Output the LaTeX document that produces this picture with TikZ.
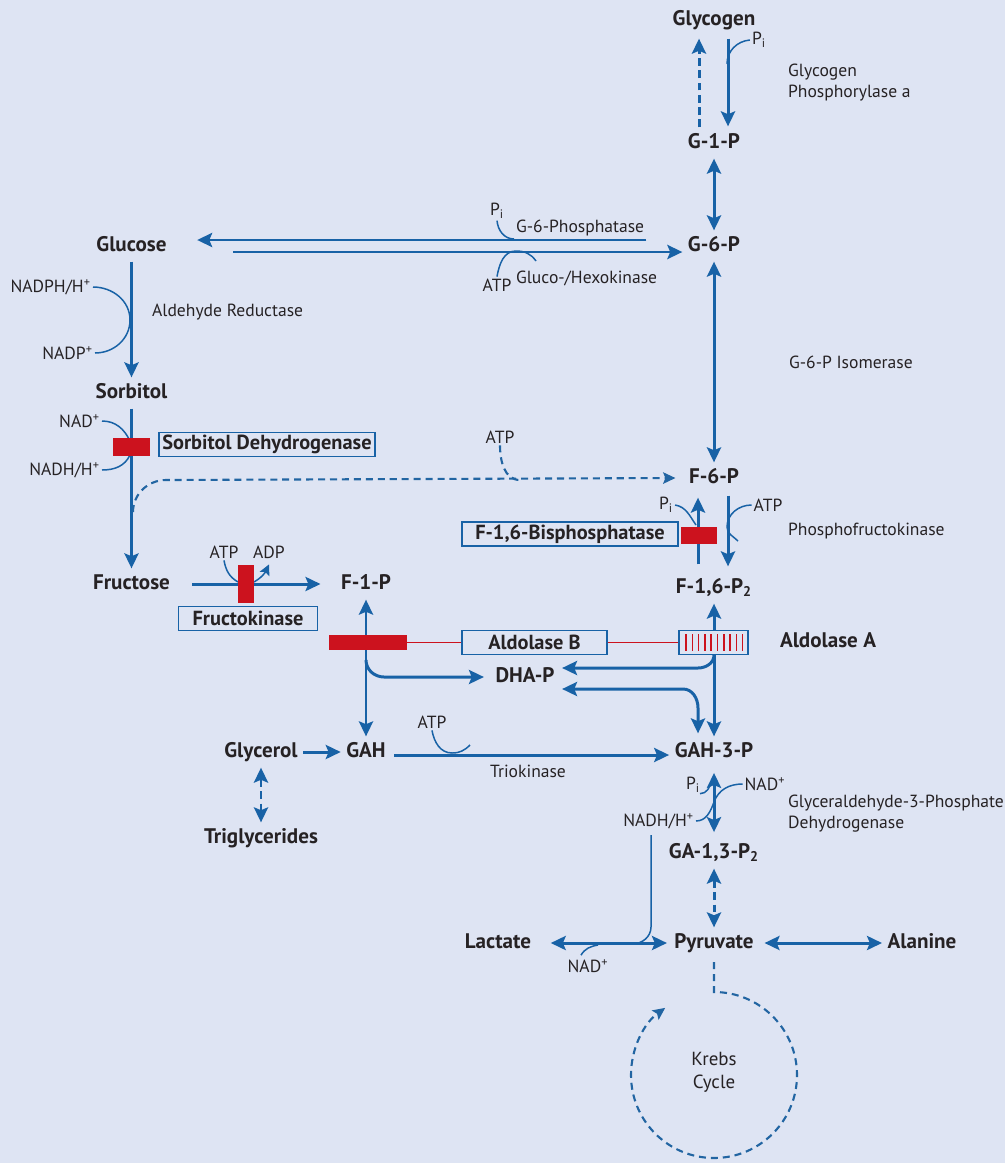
\documentclass[tikz,border=0pt]{standalone}
\usepackage{fontspec}
\setmainfont{PT Sans}
\usetikzlibrary{arrows.meta, positioning, calc}
\definecolor{pathblue}{RGB}{24,98,166}
\definecolor{enzred}{RGB}{204,18,30}
\definecolor{panelbg}{RGB}{222,228,243}
\definecolor{ink}{RGB}{38,34,36}

\begin{document}
\begin{tikzpicture}[x=0.02cm, y=-0.02cm,
    >={Stealth[length=8.5pt, width=8pt, inset=1.6pt]},
    mol/.style={font=\bfseries\fontsize{12}{14}\selectfont, text=ink,
                text height=8.7pt, text depth=2.7pt, inner sep=3pt},
    note/.style={font=\fontsize{10}{12}\selectfont, text=ink, inner sep=1pt, align=left},
    enzbox/.style={draw=pathblue, line width=0.85pt, fill=panelbg,
                   font=\bfseries\fontsize{11.6}{13}\selectfont, text=ink,
                   minimum width=#1, minimum height=0.48cm, inner sep=1pt},
    redbar/.style={fill=enzred, inner sep=0pt},
    arr/.style={line width=1.7pt, pathblue},
    dsh/.style={arr, dash pattern=on 4.5pt off 2.5pt},
    fdsh/.style={line width=1.2pt, pathblue!90!gray, dash pattern=on 4pt off 2.8pt},
    thin/.style={line width=0.85pt, pathblue},
    redlink/.style={line width=1.1pt, enzred},
    smalltip/.style={-{Stealth[length=7pt, width=6.5pt, inset=1.3pt]}}
  ]
  % Background panel
  \fill[panelbg] (0,0) rectangle (1005,1163);
  \useasboundingbox (0,0) rectangle (1005,1163);

  % Metabolites
  \node[mol] (glycogen) at (714,20)  {Glycogen};
  \node[mol] (g1p)      at (714,143) {G-1-P};
  \node[mol] (g6p)      at (714,246) {G-6-P};
  \node[mol] (f6p)      at (714,478) {F-6-P};
  \node[mol] (f16p)     at (714,588) {F-1,6-P\textsubscript{2}};
  \node[mol] (gah3p)    at (714,752) {GAH-3-P};
  \node[mol] (ga13p)    at (714,853) {GA-1,3-P\textsubscript{2}};
  \node[mol] (pyruvate) at (714,943) {Pyruvate};
  \node[mol] (glucose)  at (131.5,246) {Glucose};
  \node[mol] (sorbitol) at (131.5,393) {Sorbitol};
  \node[mol] (fructose) at (131.5,584) {Fructose};
  \node[mol] (f1p)      at (366,584) {F-1-P};
  \node[mol] (dhap)     at (525,677) {DHA-P};
  \node[mol] (glycerol) at (261,752) {Glycerol};
  \node[mol] (gah)      at (366,752) {GAH};
  \node[mol] (trigly)   at (261,838) {Triglycerides};
  \node[mol] (lactate)  at (498,943) {Lactate};
  \node[mol] (alanine)  at (922,943) {Alanine};
  \node[mol] (aldoA)    at (828,642) {Aldolase A};
  \node[note, align=center, font=\fontsize{10.8}{13}\selectfont] (krebs) at (714,1072) {Krebs\\Cycle};

  % Enzyme names
  \node[note, anchor=west] (phos)   at (786,83)  {Glycogen\\Phosphorylase a};
  \node[note, anchor=west] (g6pase) at (514,228) {G-6-Phosphatase};
  \node[note, anchor=west] (hexo)   at (514,278) {Gluco-/Hexokinase};
  \node[note, anchor=west] (alred)  at (150,312) {Aldehyde Reductase};
  \node[note, anchor=west] (isom)   at (787,362) {G-6-P Isomerase};
  \node[note, anchor=west] (pfk)    at (786,531) {Phosphofructokinase};
  \node[note]              (trio)   at (528,771) {Triokinase};
  \node[note, anchor=west] (gapdh)  at (786,814) {Glyceraldehyde-3-Phosphate\\Dehydrogenase};

  % Cofactors
  \node[note] (pi-phos)   at (759,40)  {P\textsubscript{i}};
  \node[note] (pi-g6pase) at (497,211) {P\textsubscript{i}};
  \node[note] (atp-hexo)  at (497,285) {ATP};
  \node[note, anchor=east] (nadph)    at (93,287)  {NADPH/H\textsuperscript{+}};
  \node[note, anchor=east] (nadp)     at (95,353)  {NADP\textsuperscript{+}};
  \node[note, anchor=east] (nad-sdh)  at (102,421) {NAD\textsuperscript{+}};
  \node[note, anchor=east] (nadh-sdh) at (102,470) {NADH/H\textsuperscript{+}};
  \node[note] (atp-f6p)   at (500,437) {ATP};
  \node[note] (pi-fbp)    at (666,505) {P\textsubscript{i}};
  \node[note] (atp-pfk)   at (768,505) {ATP};
  \node[note] (atp-fk)    at (224,552) {ATP};
  \node[note] (adp-fk)    at (269,552) {ADP};
  \node[note] (atp-trio)  at (432,722) {ATP};
  \node[note] (pi-gapdh)  at (693,785) {P\textsubscript{i}};
  \node[note] (nad-gapdh) at (765,784) {NAD\textsuperscript{+}};
  \node[note, anchor=east] (nadh-gapdh) at (696,821) {NADH/H\textsuperscript{+}};
  \node[note] (nad-ldh)   at (588,966) {NAD\textsuperscript{+}};

  % Junctions on the main lines
  \coordinate (j-phos)       at (727,64);
  \coordinate (j-g6pase)     at (514,239);
  \coordinate (j-hexo)       at (516,251);
  \coordinate (j-hexo-end)   at (536,261);
  \coordinate (j-alred)      at (130,320);
  \coordinate (j-sdh-in)     at (130,441);
  \coordinate (j-sdh-out)    at (130,455);
  \coordinate (j-f6p-branch) at (133,512);
  \coordinate (j-f6p-bend)   at (166,480);
  \coordinate (j-atp-f6p)    at (520,480);
  \coordinate (j-pfk)        at (727,527);
  \coordinate (j-pfk-end)    at (738,541);
  \coordinate (j-fbp)        at (696,525);
  \coordinate (j-fk-in)      at (238,582);
  \coordinate (j-fk-out)     at (254,582);
  \coordinate (j-aldoB)      at (366,660);
  \coordinate (j-aldoB-bend) at (384,677);
  \coordinate (j-aldoA)      at (714,655);
  \coordinate (j-aldoA-bend) at (698,668);
  \coordinate (j-dhap-bend)  at (683,689);
  \coordinate (j-dhap-down)  at (698,708);
  \coordinate (j-trio)       at (452,753);
  \coordinate (j-trio-end)   at (470,745);
  \coordinate (j-pi-gapdh)   at (712,781);
  \coordinate (j-nad-gapdh)  at (714,802);
  \coordinate (j-nadh-top)   at (651,835);
  \coordinate (j-ldh)        at (598,945);
  \coordinate (j-krebs)      at (714,992);

  % Main column and side branches
  \foreach \a/\b in {g1p/g6p, g6p/f6p, f1p/gah, f16p/gah3p}
    \draw[arr,<->] (\a) -- (\b);
  \foreach \a/\b in {glucose/sorbitol, sorbitol/fructose, glycerol/gah}
    \draw[arr,->] (\a) -- (\b);
  \draw[arr,<->, shorten <=3pt, shorten >=3pt] (gah3p) -- (ga13p);
  \draw[dsh,<->] (glycerol) -- (trigly);
  \draw[dsh,<->] (ga13p) -- (pyruvate);
  \draw[arr,<->, shorten <=8pt, shorten >=1pt] (lactate) -- (pyruvate);
  \draw[arr,<->, shorten <=3pt] (pyruvate) -- (alanine);
  \draw[arr,->, shorten <=9.5pt, shorten >=8.5pt] (fructose) -- (f1p);
  \draw[arr,->] ($(gah.east)+(3,3)$) -- ($(gah3p.west)+(0,3)$);

  % Glycogen <-> G-1-P
  \draw[dsh,->] ($(g1p.north)+(-15,0)$) -- ($(glycogen.south)+(-15,3)$);
  \draw[arr,->] ($(glycogen.south)+(14,3)$) -- ($(g1p.north)+(14,-1)$);
  \draw[thin] (pi-phos.west) to[out=185, in=90] (j-phos);

  % Glucose <-> G-6-P
  \draw[arr,->] ($(g6p.west)+(-36,-6)$) -- ($(glucose.east)+(25,-6)$);
  \draw[arr,->] ($(glucose.east)+(61,6)$) -- ($(g6p.west)+(0,6)$);
  \draw[thin] (pi-g6pase.south) to[out=-85, in=180] (j-g6pase);
  \draw[thin] (atp-hexo.north) to[out=80, in=180] (j-hexo) to[out=0, in=125] (j-hexo-end);

  % Sorbitol pathway cofactors
  \draw[thin] (nadph.east) to[out=0, in=90] (j-alred) to[out=-90, in=0] (nadp.east);
  \draw[thin] (nad-sdh.east) to[out=0, in=115] (j-sdh-in);
  \draw[thin] (nadh-sdh.east) to[out=0, in=-115] (j-sdh-out);

  % Fructose -> F-6-P (hexokinase side route)
  \draw[fdsh, smalltip] (j-f6p-branch) to[out=90, in=180] (j-f6p-bend) -- ($(f6p.west)+(-8,0)$);
  \draw[fdsh] (atp-f6p.south) to[out=-90, in=180] (j-atp-f6p);

  % F-6-P <-> F-1,6-P2
  \draw[arr,->] ($(f6p.south)+(14,2)$) -- ($(f16p.north)+(14,-6)$);
  \draw[arr,->] ($(f16p.north)+(-16,-8)$) -- ($(f6p.south)+(-16,4)$);
  \draw[thin] (atp-pfk.west) to[out=180, in=90] (j-pfk) to[out=-90, in=135] (j-pfk-end);
  \draw[thin] (pi-fbp.east) to[out=-10, in=125] (j-fbp);

  % Fructokinase cofactors
  \draw[thin] (atp-fk.south) to[out=-80, in=150] (j-fk-in);
  \draw[thin, -{Stealth[length=6pt, width=6pt, inset=1.2pt]}] (j-fk-out) to[out=30, in=-115] ($(adp-fk.south)+(0,4)$);

  % Aldolase cleavage products
  \draw[arr,->] (j-aldoB) to[out=-90, in=180] (j-aldoB-bend) -- ($(dhap.west)+(-6,0)$);
  \draw[arr,->] (j-aldoA) to[out=-90, in=0] (j-aldoA-bend) -- ($(dhap.east)+(2,-9)$);
  \draw[arr,<->] ($(dhap.east)+(2,12)$) -- (j-dhap-bend) to[out=0, in=90] (j-dhap-down) -- ($(gah3p.north)+(-16,-3)$);

  % Triokinase and GAPDH cofactors
  \draw[thin] (atp-trio.south) to[out=-80, in=180] (j-trio) to[out=0, in=-135] (j-trio-end);
  \draw[thin] ($(pi-gapdh.south)+(7,-1)$) to[out=0, in=-110] (j-pi-gapdh);
  \draw[thin] (nad-gapdh.west) to[out=180, in=70] (j-nad-gapdh) to[out=-110, in=0] (nadh-gapdh.east);
  \draw[thin] (j-nadh-top) -- ++(0,92) to[out=-90, in=0] ++(-19,17);
  \draw[thin] ($(nad-ldh.north)+(-7,-2)$) to[out=60, in=190] (j-ldh);

  % Krebs cycle
  \draw[fdsh, smalltip, shorten <=2pt] (pyruvate.south) -- (j-krebs)
    arc[start angle=-90, end angle=234, radius=83];

  % Enzyme boxes and blocks
  \node[redbar, minimum width=0.74cm, minimum height=0.36cm] (sdhbar) at (131.5,447) {};
  \node[enzbox=4.32cm] (sdh) at (267,444.5) {Sorbitol Dehydrogenase};
  \node[redbar, minimum width=0.72cm, minimum height=0.34cm] (fbpbar) at (699,535.5) {};
  \node[enzbox=4.32cm] (fbpase) at (570,534) {F-1,6-Bisphosphatase};
  \node[redbar, minimum width=0.32cm, minimum height=0.76cm] (fkbar) at (246,584) {};
  \node[enzbox=2.78cm] (fk) at (248,618.5) {Fructokinase};
  \node[redbar, minimum width=1.56cm, minimum height=0.3cm] (f1pbar) at (368,642.5) {};
  \node[enzbox=2.9cm] (aldoB) at (534.5,642.5) {Aldolase B};
  \node[enzbox=1.38cm] (aldoAbox) at (713.5,642.5) {};
  \foreach \i in {0,...,9}
    \draw[redlink, line width=0.9pt] (686+6.3*\i,634) -- ++(0,17);
  \draw[redlink] (f1pbar.east) -- (aldoB.west);
  \draw[redlink] (aldoB.east) -- (aldoAbox.west);
\end{tikzpicture}
\end{document}
